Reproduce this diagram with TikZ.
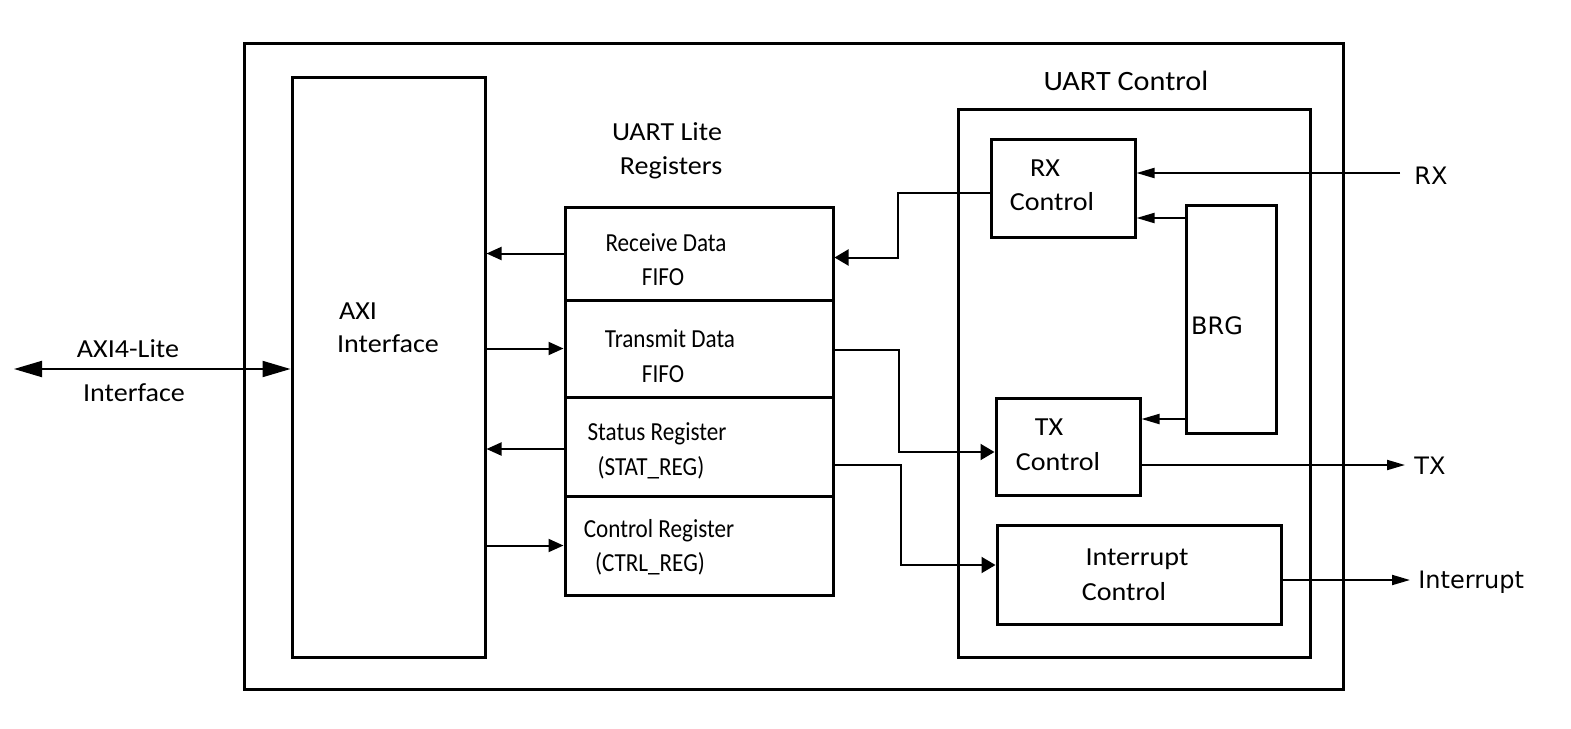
\documentclass[tikz,border=0pt]{standalone}
\usepackage{fontspec}
\setmainfont{Carlito}
\newfontfamily\labfont[FakeStretch=1.08]{Carlito}
\newfontfamily\regfont[FakeStretch=0.89]{Carlito}
\newfontfamily\iofont{DejaVu Sans}
\usetikzlibrary{arrows.meta}
\begin{document}
\begin{tikzpicture}[x=0.5pt,y=-0.5pt,
  box/.style args={#1x#2}{draw, line width=1.5pt, inner sep=0pt,
    minimum width=0.5pt*#1, minimum height=0.5pt*#2},
  lab/.style={font=\labfont\fontsize{13pt}{15pt}\selectfont, anchor=base, inner sep=0pt},
  reg/.style={font=\regfont\fontsize{13pt}{15pt}\selectfont, anchor=base, inner sep=0pt},
  io/.style={font=\iofont\fontsize{12pt}{14pt}\selectfont, anchor=base west, inner sep=0pt},
  con/.style={line width=1pt},
  barr/.style={con, {Triangle[length=14pt,width=8pt]}-{Triangle[length=14pt,width=8pt]}},
  sarr/.style={con, -{Triangle[length=7.5pt,width=6.5pt]}},
  marr/.style={con, -{Triangle[length=7pt,width=8pt]}},
  tarr/.style={con, -{Triangle[length=9pt,width=5pt]}}
]
\useasboundingbox (0,0) rectangle (1571,729);

% boxes
\node[box=1099x646] (outer) at (793.5,366) {};
\node[box=193x580] (axi) at (388.5,367) {};
\node[box=268x93] (rxf) at (699,253.5) {};
\node[box=268x97] (txf) at (699,348.5) {};
\node[box=268x99] (stat) at (699,446.5) {};
\node[box=268x99] (ctrl) at (699,545.5) {};
\node[box=352x548] (uc) at (1134,383) {};
\node[box=144x98] (rxc) at (1063,188) {};
\node[box=90x228] (brg) at (1231,319) {};
\node[box=144x97] (txc) at (1068,446.5) {};
\node[box=284x99] (ic) at (1139,574.5) {};

% texts
\node[lab, font=\labfont\fontsize{14pt}{16pt}\selectfont] (tuc) at (1126,90.5) {UART Control};
\node[lab] (tul1) at (667,140.5) {UART Lite};
\node[lab] (tul2) at (671,174.5) {Registers};
\node[reg] (t1a) at (666,251.5) {Receive Data};
\node[reg] (t1b) at (663,285.5) {FIFO};
\node[reg] (t2a) at (670,347.5) {Transmit Data};
\node[reg] (t2b) at (663,382.5) {FIFO};
\node[reg] (t3a) at (657,440.5) {Status Register};
\node[reg] (t3b) at (651,475.5) {(STAT\_REG)};
\node[reg] (t4a) at (659,537.5) {Control Register};
\node[reg] (t4b) at (650,571.5) {(CTRL\_REG)};
\node[lab] (ta1) at (358,319.5) {AXI};
\node[lab] (ta2) at (388,352.5) {Interface};
\node[lab] (te1) at (128,357.5) {AXI4-Lite};
\node[lab] (te2) at (134,401.5) {Interface};
\node[lab] (tr1) at (1045,176.5) {RX};
\node[lab] (tr2) at (1052,210.5) {Control};
\node[lab] (tt1) at (1049,435.5) {TX};
\node[lab] (tt2) at (1058,470.5) {Control};
\node[io, anchor=base] (tbrg) at (1217,334) {BRG};
\node[lab] (ti1) at (1137,565.5) {Interrupt};
\node[lab] (ti2) at (1124,600.5) {Control};
\node[io] (rxl) at (1414,184) {RX};
\node[io] (txl) at (1414,474) {TX};
\node[io] (intl) at (1418,588) {Interrupt};

% connectors
\coordinate (ext) at (14,369);
\draw[barr] (ext) -- (ext -| axi.west);

\draw[sarr] (rxf.west) -- (rxf.west -| axi.east);
\draw[sarr] (axi.east |- txf.west) -- (txf.west);
\draw[sarr] ([yshift=-1.25pt]stat.west) -- ([yshift=-1.25pt]stat.west -| axi.east);
\draw[sarr] (axi.east |- ctrl.west) -- (ctrl.west);

\coordinate (k1) at (898,0);
\coordinate (k2) at (899,0);
\coordinate (k3) at (901,0);
\coordinate (rxo) at ([yshift=-2.5pt]rxc.west);
\coordinate (rxi) at ([yshift=-2pt]rxf.east);
\draw[marr] (rxo) -| (k1 |- rxi) -- (rxi);
\coordinate (txo) at ([yshift=-0.75pt]txf.east);
\coordinate (txi) at ([yshift=-2.75pt]txc.west);
\draw[marr] (txo) -| (k2 |- txi) -- (txi);
\coordinate (sto) at ([yshift=-9.25pt]stat.east);
\coordinate (ici) at ([yshift=4.75pt]ic.west);
\draw[marr] (sto) -| (k3 |- ici) -- (ici);

\coordinate (rxs) at (1400,173);
\draw[tarr] (rxs) -- (rxs -| rxc.east);
\draw[tarr] ([yshift=50.5pt]brg.west) -- ([yshift=50.5pt]brg.west -| rxc.east);
\draw[tarr] ([yshift=-50pt]brg.west) -- ([yshift=-50pt]brg.west -| txc.east);
\coordinate (txs) at (1405,465);
\draw[tarr] ([yshift=-9.25pt]txc.east) -- (txs);
\coordinate (ints) at (1410,580);
\draw[tarr] ([yshift=-2.75pt]ic.east) -- (ints);
\end{tikzpicture}
\end{document}
